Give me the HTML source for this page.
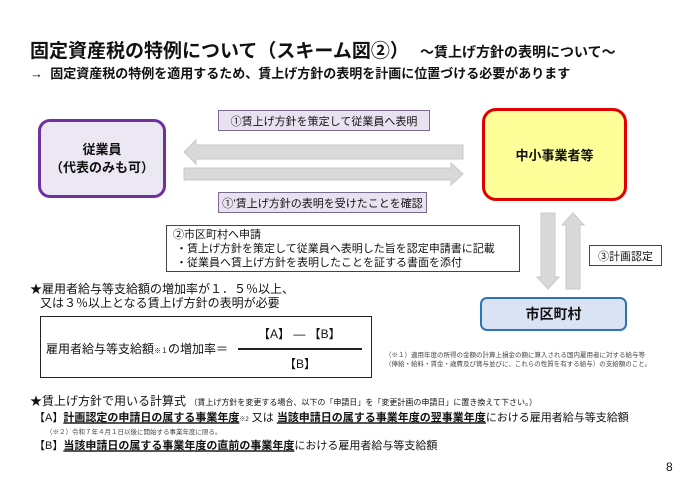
<!DOCTYPE html>
<html><head><meta charset="utf-8"><style>
body{margin:0;width:690px;height:488px;background:#fff;position:relative;overflow:hidden;font-family:"Liberation Sans","Noto Sans CJK JP",sans-serif;color:#111}
.a{position:absolute;white-space:nowrap}
.b{font-weight:bold}
.box{position:absolute;box-sizing:border-box;display:flex;align-items:center;justify-content:center;text-align:center}
u{text-decoration:underline;text-decoration-thickness:2px;text-decoration-color:#555}
</style></head><body>
<div class="a b" style="left:30px;top:36px;font-size:19px;">固定資産税の特例について（スキーム図②）</div>
<div class="a b" style="left:420px;top:42px;font-size:14px;">～賃上げ方針の表明について～</div>
<div class="a b" style="left:30px;top:63px;font-size:13px;">→&nbsp; 固定資産税の特例を適用するため、賃上げ方針の表明を計画に位置づける必要があります</div>

<div class="box b" style="left:38px;top:119px;width:128px;height:79px;border:3px solid #7030a0;border-radius:12px;background:#ece8f3;font-size:13px;line-height:18px;">従業員<br>（代表のみも可）</div>
<div class="box b" style="left:482px;top:108px;width:145px;height:93px;border:3px solid #e00000;border-radius:14px;background:#ffff99;font-size:13px;">中小事業者等</div>
<div class="box" style="left:218px;top:110px;width:212px;height:21px;border:1px solid #7a6a90;background:#e8e2f0;font-size:11px;">①賃上げ方針を策定して従業員へ表明</div>
<div class="box" style="left:218px;top:192px;width:209px;height:21px;border:1px solid #7a6a90;background:#e8e2f0;font-size:11px;">①’賃上げ方針の表明を受けたことを確認</div>

<svg class="a" style="left:0;top:0" width="690" height="488">
<g fill="#d9d9d9" stroke="#c8c8c8" stroke-width="1">
<polygon points="463,145 196,145 196,140 184,152 196,164 196,159 463,159"/>
<polygon points="184,168 451,168 451,163 463,174 451,185 451,180 184,180"/>
<polygon points="541,213 555,213 555,277 559,277 548,289 537,277 541,277"/>
<polygon points="566,289 580,289 580,225 584,225 573,213 562,225 566,225"/>
</g>
</svg>

<div class="a" style="left:166px;top:225px;width:354px;height:47px;border:1px solid #444;box-sizing:border-box;font-size:11px;line-height:14px;padding:2px 0 0 6px;">②市区町村へ申請<br>&nbsp;・賃上げ方針を策定して従業員へ表明した旨を認定申請書に記載<br>&nbsp;・従業員へ賃上げ方針を表明したことを証する書面を添付</div>
<div class="box" style="left:589px;top:245px;width:73px;height:21px;border:1px solid #444;font-size:11px;">③計画認定</div>
<div class="box b" style="left:480px;top:297px;width:147px;height:34px;border:2.5px solid #2e75b6;border-radius:7px;background:#dae3f3;font-size:14px;">市区町村</div>

<div class="a" style="left:30px;top:282px;font-size:12px;line-height:14px;">★雇用者給与等支給額の増加率が１．５％以上、<br>&nbsp;&nbsp;&nbsp;又は３％以上となる賃上げ方針の表明が必要</div>
<div class="a" style="left:40px;top:316px;width:332px;height:62px;border:1.5px solid #222;box-sizing:border-box;"></div>
<div class="a" style="left:46px;top:340px;font-size:12px;">雇用者給与等支給額<span style="font-size:7px">※１</span>の増加率＝</div>
<div class="a" style="left:258px;top:325px;font-size:12px;">【A】 ― 【B】</div>
<div class="a" style="left:238px;top:348px;width:124px;height:1.5px;background:#222"></div>
<div class="a" style="left:284px;top:355px;font-size:12px;">【B】</div>
<div class="a" style="left:385px;top:351px;font-size:6.5px;line-height:9px;color:#444;">（※１）適用年度の所得の金額の計算上損金の額に算入される国内雇用者に対する給与等<br>（俸給・給料・賃金・歳費及び賞与並びに、これらの性質を有する給与）の支給額のこと。</div>

<div class="a" style="left:30px;top:392px;font-size:12px;">★賃上げ方針で用いる計算式 <span style="font-size:8px">（賃上げ方針を変更する場合、以下の「申請日」を「変更計画の申請日」に置き換えて下さい。）</span></div>
<div class="a" style="left:34px;top:409px;font-size:11px;">【A】<b><u>計画認定の申請日の属する事業年度</u></b><span style="font-size:6px">※2</span> 又は <b><u>当該申請日の属する事業年度の翌事業年度</u></b>における雇用者給与等支給額</div>
<div class="a" style="left:46px;top:426px;font-size:6.5px;color:#444;">（※２）令和７年４月１日以後に開始する事業年度に限る。</div>
<div class="a" style="left:34px;top:437px;font-size:11px;">【B】<b><u>当該申請日の属する事業年度の直前の事業年度</u></b>における雇用者給与等支給額</div>
<div class="a" style="left:666px;top:460px;font-size:12px;">8</div>
</body></html>
